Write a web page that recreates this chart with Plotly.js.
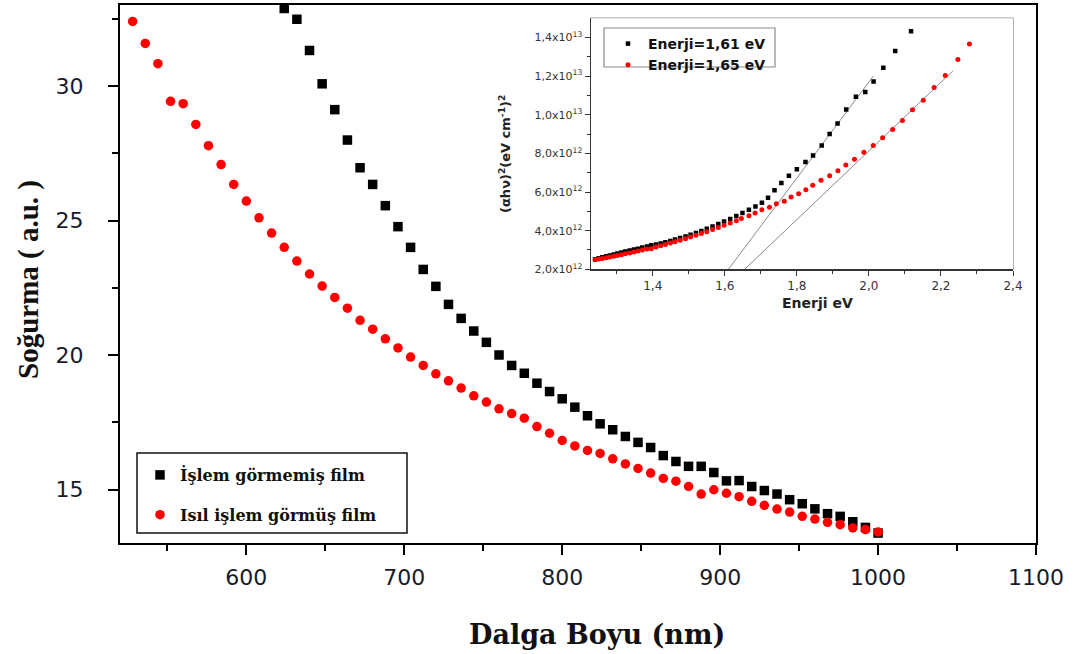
<!DOCTYPE html>
<html>
<head>
<meta charset="utf-8">
<script src="https://cdn.plot.ly/plotly-3.0.1.min.js"></script>
<style>html,body{margin:0;padding:0;background:#fff;}#chart{width:1081px;height:654px;}</style>
</head>
<body>
<div id="chart"></div>
<script>
// ---- main chart data ----
const wavelengthRed = [528,536,544,552,560,568,576,584,592,600,608,616,624,632,640,648,656,664,672,680,688,696,704,712,720,728,736,744,752,760,768,776,784,792,800,808,816,824,832,840,848,856,864,872,880,888,896,904,912,920,928,936,944,952,960,968,976,984,992,1000];
const absorbRed = [32.41,31.59,30.84,29.44,29.35,28.58,27.79,27.09,26.35,25.73,25.11,24.54,24.01,23.50,23.02,22.57,22.15,21.75,21.30,20.97,20.61,20.27,19.93,19.62,19.31,19.05,18.78,18.49,18.26,18.01,17.83,17.66,17.35,17.10,16.83,16.63,16.46,16.35,16.15,15.96,15.79,15.62,15.42,15.32,15.12,14.84,15.00,14.87,14.74,14.57,14.42,14.28,14.17,14.01,13.91,13.79,13.70,13.58,13.52,13.43];
const wavelengthBlack = [624,632,640,648,656,664,672,680,688,696,704,712,720,728,736,744,752,760,768,776,784,792,800,808,816,824,832,840,848,856,864,872,880,888,896,904,912,920,928,936,944,952,960,968,976,984,992,1000];
const absorbBlack = [32.89,32.49,31.33,30.09,29.13,28.00,26.97,26.35,25.56,24.78,24.01,23.19,22.56,21.89,21.37,20.90,20.48,20.01,19.62,19.33,18.96,18.65,18.38,18.07,17.75,17.45,17.23,16.98,16.76,16.57,16.27,16.05,15.87,15.87,15.64,15.33,15.34,15.12,14.97,14.84,14.63,14.48,14.29,14.11,14.01,13.81,13.60,13.39];
const mainXTicks = [600,700,800,900,1000,1100];
const mainXMinor = [550,650,750,850,950,1050];
const mainYTicks = [15,20,25,30];
const mainYMinor = [17.5,22.5,27.5,32.5];
const nameBlack = 'İşlem görmemiş film';
const nameRed = 'Isıl işlem görmüş film';

// ---- inset data (values in units of 1e12) ----
const energyBlack = [1.240,1.250,1.260,1.271,1.281,1.292,1.302,1.313,1.324,1.336,1.348,1.359,1.371,1.384,1.396,1.409,1.422,1.435,1.449,1.462,1.476,1.491,1.505,1.520,1.535,1.550,1.566,1.582,1.598,1.615,1.632,1.649,1.667,1.685,1.703,1.720,1.738,1.757,1.778,1.800,1.824,1.845,1.869,1.891,1.913,1.937,1.964,1.990,2.013,2.040,2.073,2.117];
const valueBlack = [2.52,2.57,2.62,2.67,2.72,2.77,2.82,2.87,2.92,2.97,3.02,3.07,3.13,3.18,3.24,3.29,3.33,3.40,3.47,3.54,3.62,3.70,3.79,3.88,3.99,4.10,4.22,4.35,4.47,4.60,4.76,4.92,5.08,5.25,5.45,5.70,6.09,6.47,6.85,7.18,7.56,7.89,8.41,9.01,9.55,10.28,10.94,11.18,11.73,12.44,13.31,14.33];
const energyRed = [1.240,1.250,1.260,1.271,1.281,1.292,1.302,1.313,1.324,1.336,1.348,1.359,1.371,1.384,1.396,1.409,1.422,1.435,1.449,1.462,1.476,1.491,1.505,1.520,1.535,1.550,1.566,1.582,1.598,1.615,1.632,1.646,1.667,1.684,1.703,1.724,1.743,1.765,1.784,1.805,1.825,1.844,1.867,1.891,1.914,1.936,1.960,1.986,2.012,2.038,2.066,2.093,2.121,2.151,2.181,2.212,2.247,2.279];
const valueRed = [2.49,2.53,2.56,2.60,2.64,2.68,2.72,2.76,2.80,2.85,2.90,2.95,3.00,3.05,3.07,3.15,3.22,3.29,3.36,3.43,3.50,3.58,3.67,3.76,3.85,3.95,4.06,4.17,4.28,4.40,4.52,4.63,4.77,4.91,5.08,5.22,5.39,5.53,5.74,5.91,6.12,6.35,6.61,6.85,7.11,7.40,7.70,8.06,8.41,8.81,9.24,9.71,10.26,10.76,11.42,12.04,12.87,13.67];
const fitBlackE = [1.610, 2.012];
const fitBlackV = [2.0, 12.0];
const fitRedE = [1.655, 2.233];
const fitRedV = [2.0, 12.27];
const insetXTicks = [1.4,1.6,1.8,2.0,2.2,2.4];
const insetXLabels = ['1,4','1,6','1,8','2,0','2,2','2,4'];
const insetXMinor = [1.3,1.5,1.7,1.9,2.1,2.3];
const insetYTicks = [2,4,6,8,10,12,14];
const insetYLabels = ['2,0x10<sup>12</sup>','4,0x10<sup>12</sup>','6,0x10<sup>12</sup>','8,0x10<sup>12</sup>','1,0x10<sup>13</sup>','1,2x10<sup>13</sup>','1,4x10<sup>13</sup>'];
const insetYMinor = [3,5,7,9,11,13];
const insetNameBlack = 'Enerji=1,61 eV';
const insetNameRed = 'Enerji=1,65 eV';

const traces = [
  {x: wavelengthBlack, y: absorbBlack, type: 'scatter', mode: 'markers', name: nameBlack,
   marker: {symbol: 'square', size: 9.5, color: '#000'}, legend: 'legend', legendgroup: 'a', xaxis: 'x', yaxis: 'y', cliponaxis: true},
  {x: wavelengthRed, y: absorbRed, type: 'scatter', mode: 'markers', name: nameRed,
   marker: {symbol: 'circle', size: 9.5, color: '#ff0000'}, legend: 'legend', legendgroup: 'b', xaxis: 'x', yaxis: 'y', cliponaxis: true},
  {x: fitBlackE, y: fitBlackV, type: 'scatter', mode: 'lines', showlegend: false,
   line: {color: '#8a8a8a', width: 1}, xaxis: 'x2', yaxis: 'y2'},
  {x: fitRedE, y: fitRedV, type: 'scatter', mode: 'lines', showlegend: false,
   line: {color: '#8a8a8a', width: 1}, xaxis: 'x2', yaxis: 'y2'},
  {x: energyBlack, y: valueBlack, type: 'scatter', mode: 'markers', name: insetNameBlack,
   marker: {symbol: 'square', size: 4.5, color: '#000'}, legend: 'legend2', xaxis: 'x2', yaxis: 'y2'},
  {x: energyRed, y: valueRed, type: 'scatter', mode: 'markers', name: insetNameRed,
   marker: {symbol: 'circle', size: 5, color: '#ff0000'}, legend: 'legend2', xaxis: 'x2', yaxis: 'y2'}
];

const W = 1081, H = 654, L = 120, R = 45, T = 5, B = 111;
const pw = W - L - R, ph = H - T - B;
const px = v => (v - L) / pw;
const py = v => (H - B - v) / ph;

const layout = {
  width: W, height: H,
  margin: {l: L, r: R, t: T, b: B},
  paper_bgcolor: '#fff', plot_bgcolor: '#fff',
  font: {family: 'DejaVu Sans', color: '#111'},
  showlegend: true,
  xaxis: {
    range: [520, 1100], tickvals: mainXTicks, ticks: 'outside', ticklen: 10, tickwidth: 2, tickcolor: '#000',
    showline: true, linecolor: '#000', linewidth: 2, mirror: true, showgrid: false, zeroline: false,
    tickfont: {family: 'DejaVu Sans', size: 22, color: '#1a1a2a'}, ticklabelstandoff: 4,
    minor: {tickvals: mainXMinor, ticks: 'outside', ticklen: 6, tickwidth: 2, tickcolor: '#000', showgrid: false}
  },
  yaxis: {
    range: [13.02, 33.02], tickvals: mainYTicks, ticks: 'outside', ticklen: 10, tickwidth: 2, tickcolor: '#000',
    showline: true, linecolor: '#000', linewidth: 2, mirror: true, showgrid: false, zeroline: false,
    tickfont: {family: 'DejaVu Sans', size: 22, color: '#1a1a2a'}, ticklabelstandoff: 20,
    minor: {tickvals: mainYMinor, ticks: 'outside', ticklen: 6, tickwidth: 2, tickcolor: '#000', showgrid: false}
  },
  xaxis2: {
    domain: [px(591), px(1013)], anchor: 'y2', range: [1.2286, 2.4],
    tickvals: insetXTicks, ticktext: insetXLabels, ticks: 'outside', ticklen: 5, tickwidth: 1, tickcolor: '#333',
    showline: true, linecolor: '#333', linewidth: 1.5, showgrid: false, zeroline: false,
    tickfont: {family: 'DejaVu Sans', size: 12, color: '#333'},
    minor: {tickvals: insetXMinor, ticks: 'outside', ticklen: 3, tickwidth: 1, tickcolor: '#333', showgrid: false}
  },
  yaxis2: {
    domain: [py(269.3), py(18.3)], anchor: 'x2', range: [2, 15],
    tickvals: insetYTicks, ticktext: insetYLabels, ticks: 'outside', ticklen: 5, tickwidth: 1, tickcolor: '#333',
    showline: true, linecolor: '#333', linewidth: 1.5, showgrid: false, zeroline: false,
    tickfont: {family: 'DejaVu Sans', size: 11, color: '#333'},
    minor: {tickvals: insetYMinor, ticks: 'outside', ticklen: 3, tickwidth: 1, tickcolor: '#333', showgrid: false}
  },
  legend: {
    x: px(140), y: py(458), xanchor: 'left', yanchor: 'top', bgcolor: 'rgba(0,0,0,0)', borderwidth: 0,
    font: {family: 'DejaVu Serif', size: 16, color: '#111', weight: 'bold'}, tracegroupgap: 16, itemclick: false
  },
  legend2: {
    x: px(608), y: py(28), xanchor: 'left', yanchor: 'top', bgcolor: 'rgba(0,0,0,0)', borderwidth: 0,
    font: {family: 'DejaVu Sans', size: 14, color: '#111', weight: 'bold'}
  },
  shapes: [
    {type: 'rect', xref: 'x2 domain', yref: 'y2 domain', x0: 0, x1: 1, y0: 0, y1: 1,
     line: {color: '#9a9a9a', width: 1.5}, layer: 'below'},
    {type: 'rect', xref: 'paper', yref: 'paper', x0: px(137), x1: px(407), y0: py(533), y1: py(453),
     line: {color: '#111', width: 1.5}},
    {type: 'rect', xref: 'paper', yref: 'paper', x0: px(604), x1: px(775), y0: py(67), y1: py(28),
     line: {color: '#8a8a8a', width: 1.2}}
  ],
  annotations: [
    {text: 'Dalga Boyu (nm)', xref: 'paper', yref: 'paper', x: px(597), y: py(634), xanchor: 'center', yanchor: 'middle',
     showarrow: false, font: {family: 'DejaVu Serif', size: 27, color: '#111', weight: 'bold'}},
    {text: 'Soğurma ( a.u. )', xref: 'paper', yref: 'paper', x: px(29), y: py(280), xanchor: 'center', yanchor: 'middle',
     textangle: -90, showarrow: false, font: {family: 'Liberation Serif', size: 29, color: '#111', weight: 'bold'}},
    {text: 'Enerji eV', xref: 'paper', yref: 'paper', x: px(817), y: py(303), xanchor: 'center', yanchor: 'middle',
     showarrow: false, font: {family: 'DejaVu Sans', size: 14, color: '#222', weight: 'bold'}},
    {text: '(αhν)<sup>2</sup>(eV cm<sup>-1</sup>)<sup>2</sup>', xref: 'paper', yref: 'paper', x: px(505), y: py(154),
     xanchor: 'center', yanchor: 'middle', textangle: -90, showarrow: false,
     font: {family: 'DejaVu Sans', size: 13, color: '#222', weight: 'bold'}}
  ]
};

Plotly.newPlot('chart', traces, layout, {displayModeBar: false, staticPlot: true});
</script>
</body>
</html>
